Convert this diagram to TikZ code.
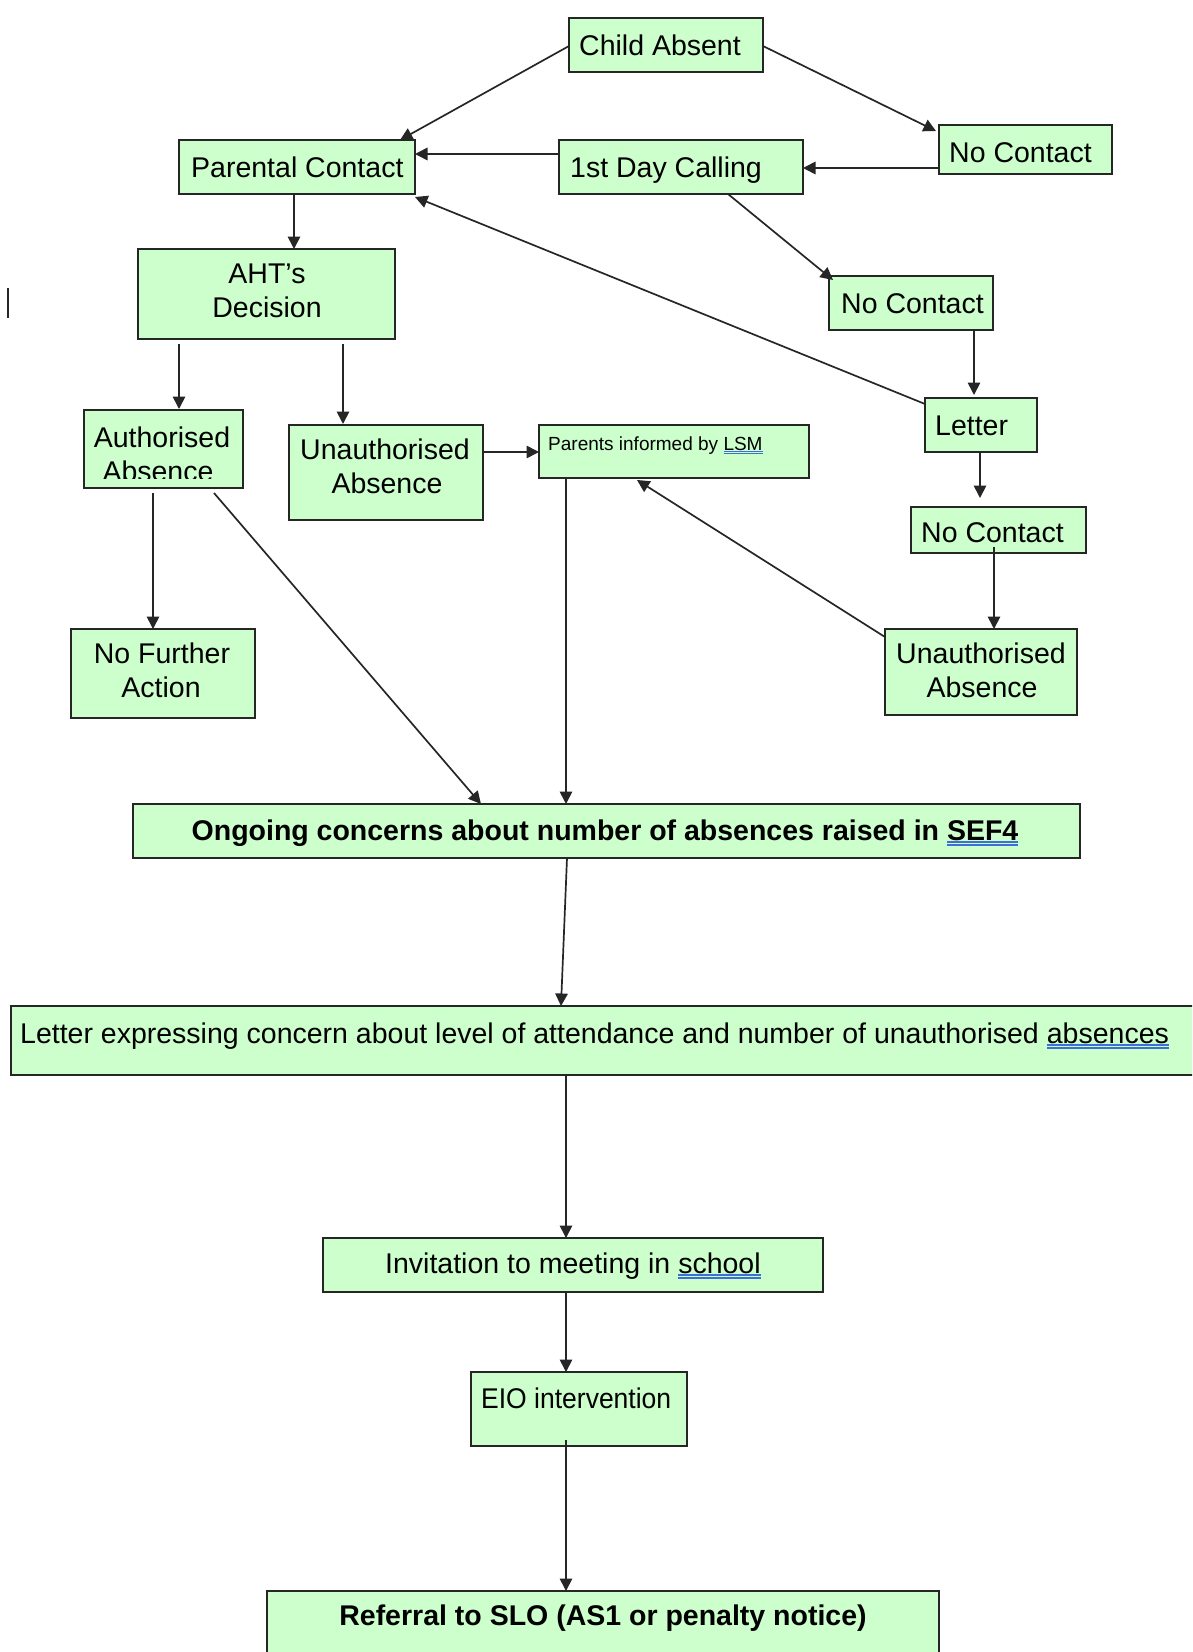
\documentclass[tikz,border=0pt]{standalone}
\usepackage{fontspec}
\setmainfont{Liberation Sans}
\usetikzlibrary{arrows.meta,calc}
\definecolor{boxgreen}{HTML}{CCFFCC}
\definecolor{spellblue}{HTML}{3C6FD8}
\newcommand\spellul[1]{\setbox0\hbox{#1}\rlap{\color{spellblue}\rule[-0.09em]{\wd0}{0.045em}}\rlap{\color{spellblue}\rule[-0.2em]{\wd0}{0.045em}}\box0}
\begin{document}
\begin{tikzpicture}[x=1pt,y=-1pt,
  gbox/.style={rectangle,draw=black!85,line width=1.8pt,fill=boxgreen,anchor=north west,inner sep=0pt,outer sep=0pt},
  txt/.style={inner sep=0pt,font=\fontsize{28.5}{34}\selectfont},
  btxt/.style={inner sep=0pt,font=\fontsize{28.5}{34}\selectfont\bfseries},
  stxt/.style={inner sep=0pt,font=\fontsize{19}{23}\selectfont},
  conn/.style={line width=1.7pt,draw=black!85,-{Triangle[length=12.5pt,width=12.5pt]}}]
\useasboundingbox (0,0) rectangle (1192,1652);
\begin{scope}
\clip (0,0) rectangle (1192,1652);
% boxes
\node[gbox,minimum width=194pt,minimum height=54pt] (ca) at (569,18) {};
\node[gbox,minimum width=173pt,minimum height=49pt] (nc1) at (939,125) {};
\node[gbox,minimum width=236pt,minimum height=54pt] (pc) at (179,140) {};
\node[gbox,minimum width=244pt,minimum height=54pt] (fdc) at (559,140) {};
\node[gbox,minimum width=257pt,minimum height=90pt] (aht) at (138,249) {};
\node[gbox,minimum width=164pt,minimum height=54pt] (nc2) at (829,276) {};
\node[gbox,minimum width=159pt,minimum height=78pt] (auth) at (84,410) {};
\node[gbox,minimum width=194pt,minimum height=95pt] (unl) at (289,425) {};
\node[gbox,minimum width=270pt,minimum height=53pt] (pil) at (539,425) {};
\node[gbox,minimum width=112pt,minimum height=54pt] (let) at (925,398) {};
\node[gbox,minimum width=175pt,minimum height=46pt] (nc3) at (911,507) {};
\node[gbox,minimum width=192pt,minimum height=86pt] (unr) at (885,629) {};
\node[gbox,minimum width=184pt,minimum height=89pt] (nfa) at (71,629) {};
\node[gbox,minimum width=947pt,minimum height=54pt] (ong) at (133,804) {};
\node[gbox,minimum width=1190pt,minimum height=69pt] (lex) at (11,1006) {};
\node[gbox,minimum width=500pt,minimum height=54pt] (inv) at (323,1238) {};
\node[gbox,minimum width=216pt,minimum height=74pt] (eio) at (471,1372) {};
\node[gbox,minimum width=672pt,minimum height=80pt] (ref) at (267,1591) {};
% texts
\node[txt,anchor=base west] (ca-t) at (579,55) {Child Absent};
\node[txt,anchor=base west] (nc1-t) at (949,162) {No Contact};
\node[txt,anchor=base west] (pc-t) at (191,177) {Parental Contact};
\node[txt,anchor=base west] (fdc-t) at (570,177) {1st Day Calling};
\node[txt,anchor=base] (aht-t1) at (267,283) {AHT’s};
\node[txt,anchor=base] (aht-t2) at (267,317) {Decision};
\node[txt,anchor=base west] (nc2-t) at (841,313) {No Contact};
\begin{scope}
\clip (84,410) rectangle (243,478);
\node[txt,anchor=base] (auth-t1) at (162,447) {Authorised};
\node[txt,anchor=base] (auth-t2) at (158,481) {Absence};
\end{scope}
\node[txt,anchor=base] (unl-t1) at (385,459) {Unauthorised};
\node[txt,anchor=base] (unl-t2) at (387,493) {Absence};
\node[stxt,anchor=base west] (pil-t) at (548,450) {Parents informed by \spellul{LSM}};
\node[txt,anchor=base west] (let-t) at (935,435) {Letter};
\node[txt,anchor=base west] (nc3-t) at (921,542) {No Contact};
\node[txt,anchor=base] (unr-t1) at (981,663) {Unauthorised};
\node[txt,anchor=base] (unr-t2) at (982,697) {Absence};
\node[txt,anchor=base] (nfa-t1) at (162,663) {No Further};
\node[txt,anchor=base] (nfa-t2) at (161,697) {Action};
\node[btxt,anchor=base] (ong-t) at (605,840) {Ongoing concerns about number of absences raised in \spellul{SEF4}};
\node[txt,anchor=base west] (lex-t) at (20,1043) {Letter expressing concern about level of attendance and number of unauthorised \spellul{absences}};
\node[txt,anchor=base west] (inv-t) at (385,1273) {Invitation to meeting in \spellul{school}};
\node[txt,anchor=base west,xscale=0.93] (eio-t) at (481,1408) {EIO intervention};
\node[btxt,anchor=base] (ref-t) at (603,1625) {Referral to SLO (AS1 or penalty notice)};
% connectors
\draw[conn] ($(ca.north west)+(0,28)$) -- ($(pc.north east)+(-15,0)$);
\draw[conn] ($(ca.north east)+(0,28)$) -- ($(nc1.north west)+(-3,6)$);
\draw[conn] ($(nc1.north west)+(0,43)$) -- ($(fdc.north east)+(0,28)$);
\draw[conn] ($(fdc.north west)+(0,14)$) -- ($(pc.north east)+(0,14)$);
\draw[conn] ($(fdc.south west)+(169,0)$) -- ($(nc2.north west)+(4,4)$);
\draw[conn] ($(let.north west)+(0,6)$) -- ($(pc.south east)+(0,3)$);
\draw[conn] ($(nc2.south east)+(-19,0)$) -- ($(let.north west)+(49,-3)$);
\draw[conn] ($(pc.south west)+(115,0)$) -- ($(aht.north west)+(156,0)$);
\draw[conn] ($(aht.south west)+(41,5)$) -- ($(auth.north west)+(95,-1)$);
\draw[conn] ($(aht.south west)+(205,5)$) -- ($(unl.north west)+(54,-1)$);
\draw[conn] ($(unl.north east)+(0,27)$) -- ($(pil.north west)+(0,27)$);
\draw[conn] ($(let.south west)+(55,0)$) -- ($(nc3.north west)+(69,-9)$);
\draw[conn] ($(nc3.south west)+(83,-6)$) -- ($(unr.north west)+(109,0)$);
\draw[conn] ($(unr.north west)+(0,8)$) -- ($(pil.south west)+(98,2)$);
\draw[conn] ($(auth.south west)+(69,5)$) -- ($(nfa.north west)+(82,0)$);
\draw[conn] ($(auth.south west)+(130,5)$) -- ($(ong.north west)+(348,0)$);
\draw[conn] ($(pil.south west)+(27,0)$) -- ($(ong.north west)+(433,0)$);
\draw[conn] ($(ong.south west)+(434,0)$) -- ($(lex.north west)+(550,0)$);
\draw[conn] ($(lex.south west)+(555,0)$) -- ($(inv.north west)+(243,0)$);
\draw[conn] ($(inv.south west)+(243,0)$) -- ($(eio.north west)+(95,0)$);
\draw[conn] ($(eio.south west)+(95,-6)$) -- ($(ref.north west)+(299,0)$);
% stray cursor mark
\draw[line width=1.5pt,black!85] (8,288) -- (8,318);
\end{scope}
\end{tikzpicture}
\end{document}
